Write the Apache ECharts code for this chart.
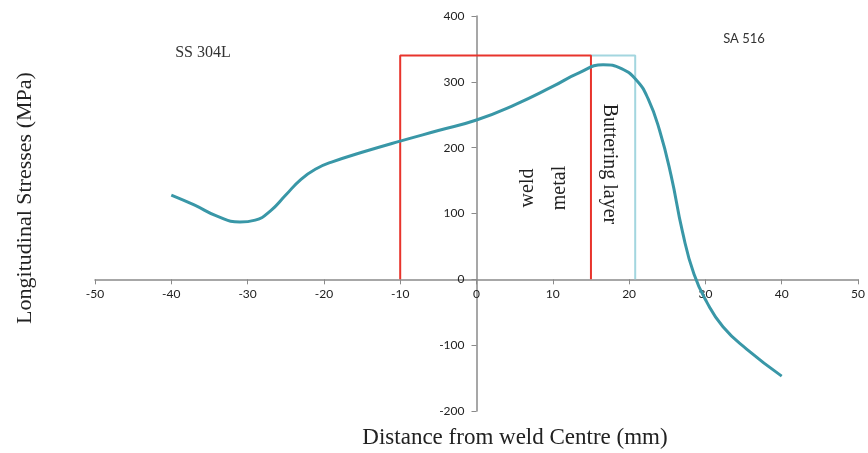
<!DOCTYPE html>
<html>
<head>
<meta charset="utf-8">
<script src="https://cdn.jsdelivr.net/npm/echarts@6/dist/echarts.min.js"></script>
<style>
  html, body { margin: 0; padding: 0; background: #fff; }
  #chartmain { width: 868px; height: 453px; }
</style>
</head>
<body>
<div id="chartmain"></div>
<script>
// distance from weld centre (mm) and longitudinal stress (MPa)
var distance = [-40, -37, -34, -31, -29, -27, -25, -23, -21, -19, -15, -10, -5, 0, 5, 10, 13.5, 16.6, 19, 21, 22.5, 24, 25.5, 27, 28.5, 30.2, 32.3, 35.4, 40];
var stress = [128, 113, 96, 87, 90, 104, 128, 152, 168, 178, 193, 210, 226, 242, 265, 293, 314, 326, 320, 302, 274, 226, 158, 72, 8, -35, -72, -106, -147];

// zone boundaries (mm) and height of the zone boxes (MPa)
var weldMetal = [-10, 15];
var butteringEdge = 20.8;
var zoneTop = 340;

// axis ranges
var xRange = [-50, 50, 10];
var yRange = [-200, 400, 100];

function setChartMain() {
    var W = 868, H = 453;
    var grid = { left: 95, right: 10, top: 16, bottom: 42 };
    // axes cross at the origin: shift them in from the grid edges
    var gw = W - grid.left - grid.right, gh = H - grid.top - grid.bottom;
    var xOffset = -gh * (0 - yRange[0]) / (yRange[1] - yRange[0]);
    var yOffset = -gw * (0 - xRange[0]) / (xRange[1] - xRange[0]);

    var curve = [];
    for (var i = 0; i < distance.length; i++) {
        curve.push([distance[i], stress[i]]);
    }
    var weldBox = [
        [weldMetal[0], 0], [weldMetal[0], zoneTop],
        [weldMetal[1], zoneTop], [weldMetal[1], 0]
    ];
    var butterBox = [
        [weldMetal[1], zoneTop], [butteringEdge, zoneTop], [butteringEdge, 0]
    ];

    var axisLabel = { fontFamily: 'Lato', fontSize: 12, color: '#222' };
    var option = {
        animation: false,
        grid: grid,
        xAxis: {
            type: 'value',
            min: xRange[0], max: xRange[1], interval: xRange[2],
            position: 'bottom',
            offset: xOffset,
            axisLine: { onZero: false, lineStyle: { color: '#8a8a8a', width: 1.5 } },
            axisTick: { show: true, length: 5, lineStyle: { color: '#8a8a8a' } },
            axisLabel: Object.assign({ margin: 9 }, axisLabel),
            splitLine: { show: false }
        },
        yAxis: {
            type: 'value',
            min: yRange[0], max: yRange[1], interval: yRange[2],
            position: 'left',
            offset: yOffset,
            axisLine: { show: true, onZero: false, lineStyle: { color: '#8a8a8a', width: 1.5 } },
            axisTick: { show: true, length: 5, lineStyle: { color: '#8a8a8a' } },
            axisLabel: Object.assign({ margin: 12 }, axisLabel),
            splitLine: { show: false }
        },
        series: [{
            name: 'weld metal',
            type: 'line',
            data: weldBox,
            symbol: 'none',
            lineStyle: { color: '#e8342c', width: 2 },
            z: 2
        }, {
            name: 'buttering layer',
            type: 'line',
            data: butterBox,
            symbol: 'none',
            lineStyle: { color: '#a3d6df', width: 2 },
            z: 1
        }, {
            name: 'stress',
            type: 'line',
            data: curve,
            smooth: 0.5,
            symbol: 'none',
            lineStyle: { color: '#3997a7', width: 3 },
            z: 3
        }],
        graphic: [{
            type: 'text', x: 25, y: 198, rotation: Math.PI / 2,
            style: { text: 'Longitudinal Stresses (MPa)', fontFamily: 'Liberation Serif', fontSize: 22,
                     fill: '#222', align: 'center', verticalAlign: 'middle' }
        }, {
            type: 'text', x: 515, y: 438,
            style: { text: 'Distance from weld Centre (mm)', fontFamily: 'Liberation Serif', fontSize: 23,
                     fill: '#222', align: 'center', verticalAlign: 'middle' }
        }, {
            type: 'text', x: 203, y: 53,
            style: { text: 'SS 304L', fontFamily: 'Liberation Serif', fontSize: 16,
                     fill: '#333', align: 'center', verticalAlign: 'middle' }
        }, {
            type: 'text', x: 744, y: 39,
            style: { text: 'SA 516', fontFamily: 'Lato', fontSize: 13,
                     fill: '#333', align: 'center', verticalAlign: 'middle' }
        }, {
            type: 'text', x: 544, y: 188, rotation: Math.PI / 2,
            style: { text: 'weld\nmetal', fontFamily: 'Liberation Serif', fontSize: 20, lineHeight: 32,
                     fill: '#222', align: 'center', verticalAlign: 'middle' }
        }, {
            type: 'text', x: 609, y: 164, rotation: -Math.PI / 2,
            style: { text: 'Buttering layer', fontFamily: 'Liberation Serif', fontSize: 20,
                     fill: '#222', align: 'center', verticalAlign: 'middle' }
        }]
    };
    var myChart = echarts.init(document.getElementById('chartmain'));
    myChart.setOption(option);
}
setChartMain();
</script>
</body>
</html>
